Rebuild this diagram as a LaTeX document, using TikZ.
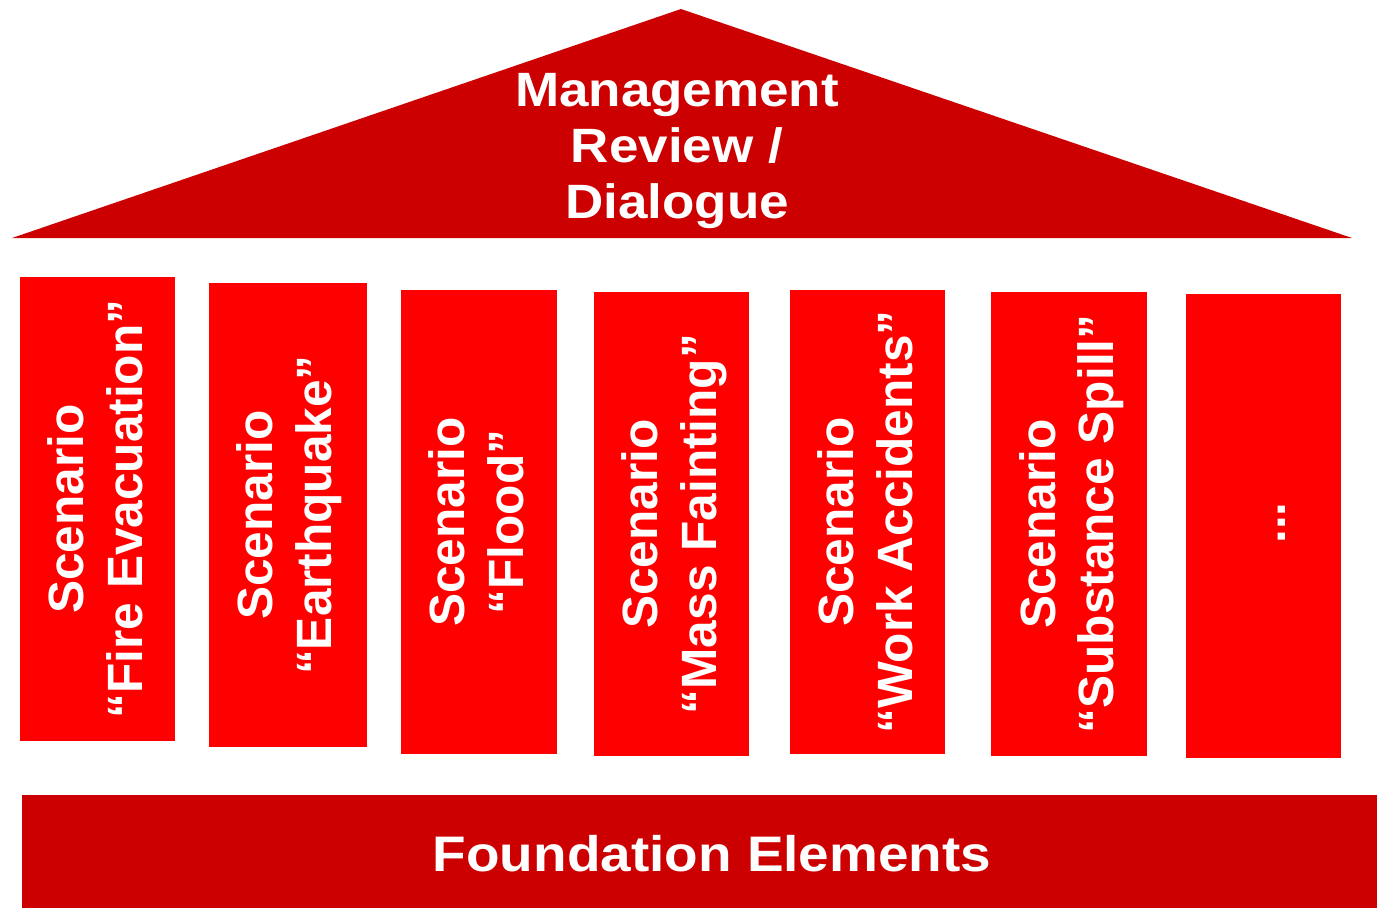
\documentclass[tikz,border=0pt]{standalone}
\usepackage{fontspec}
\setmainfont{Liberation Sans}
\newfontfamily\widefont[FakeStretch=1.1]{Liberation Sans}
\definecolor{roofred}{RGB}{204,0,0}
\definecolor{pillarred}{RGB}{255,0,0}
\tikzset{
	roof/.style={fill=roofred},
	pillar/.style={fill=pillarred},
	roofText/.style={text=white,align=center,font=\widefont\fontsize{13.7}{15.9}\selectfont\bfseries},
	pillarText/.style={text=white,align=center,rotate=90,anchor=base,font=\fontsize{14.1}{16.5}\selectfont\bfseries}
}
\begin{document}
\begin{tikzpicture}[x=0.01cm,y=-0.01cm]
			\useasboundingbox (0,0) rectangle (1377,908);
			%Roof
			\fill[roof] (12,238) -- (681,9) -- (1352,238) -- cycle;
			\node[roofText] (review) at (677,151) {Management\\Review /\\Dialogue};
			%Pillars
			\fill[pillar] (20,277) rectangle (175,741);
			\fill[pillar] (209,283) rectangle (367,747);
			\fill[pillar] (401,290) rectangle (557,754);
			\fill[pillar] (594,292) rectangle (749,756);
			\fill[pillar] (790,290) rectangle (945,754);
			\fill[pillar] (991,292) rectangle (1147,756);
			\fill[pillar] (1186,294) rectangle (1341,758);
			\node[pillarText] (fire) at (142,509) {Scenario\\“Fire Evacuation”};
			\node[pillarText] (quake) at (331,515) {Scenario\\“Earthquake”};
			\node[pillarText] (flood) at (523,522) {Scenario\\“Flood”};
			\node[pillarText] (faint) at (716,524) {Scenario\\“Mass Fainting”};
			\node[pillarText] (accid) at (912,522) {Scenario\\“Work Accidents”};
			\node[pillarText] (spill) at (1113,524) {Scenario\\“Substance Spill”};
			\node[pillarText] (more) at (1285,523) {...};
			%Foundation
			\fill[roof] (22,795) rectangle (1377,908);
			\node[roofText,font=\widefont\fontsize{14.2}{16}\selectfont\bfseries] (found) at (712,854) {Foundation Elements};
		\end{tikzpicture}
\end{document}
